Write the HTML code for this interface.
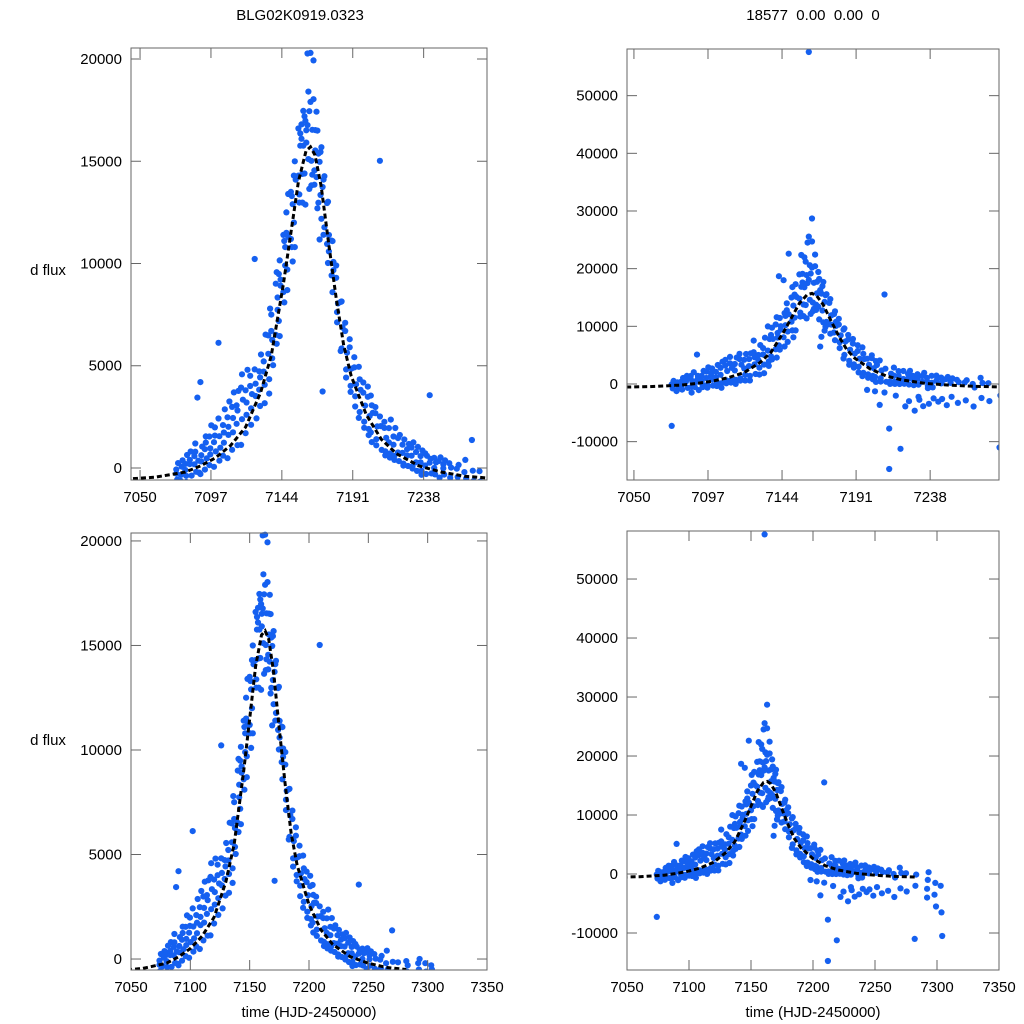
<!DOCTYPE html>
<html><head><meta charset="utf-8"><style>
body{margin:0;background:#fff;}
svg{display:block;font-family:"Liberation Sans",sans-serif;}
</style></head><body>
<svg id="chart" width="1024" height="1024" viewBox="0 0 1024 1024"></svg>
<script>
// ---- model curve data ----
const modelT = [7040,7060,7080,7090,7100,7110,7120,7130,7137,7145,7150,7155,7160,7163,7166,7170,7175,7180,7185,7190,7200,7210,7220,7235,7250,7265,7282];
const modelF = [-550,-450,-200,100,500,1100,2000,3700,5500,9000,11500,14000,15500,15700,15300,13800,11000,8300,6000,4500,2600,1400,700,100,-200,-400,-500];
// ---- observation nights ----
const nightT = [7074,7077,7080,7083,7086,7088,7090,7093,7096,7099,7102,7105,7108,7111,7114,7117,7120,7123,7126,7129,7132,7135,7137,7140,7142,7145,7147,7150,7152,7155,7157,7159,7161,7163,7165,7167,7169,7171,7174,7177,7180,7183,7186,7189,7192,7195,7198,7201,7203,7206,7209,7212,7215,7218,7221,7224,7227,7230,7233,7236,7239,7242,7245,7248,7251,7255,7260,7265,7270,7275,7282,7292,7298,7303];
// residuals from model, left dataset
const devLeft = [[200,-300,500,0],[-100,300,600,-400],[400,-200,800,100,-500],[300,900,-300,500],[600,1200,-200,200,800],[3400,300,-300],[4100,500,900,-400,200],[700,1300,200,-300,1000],[1200,300,1700,-200,600],[800,1500,300,-400,1100],[5500,900,300,1800,-300],[1300,400,2000,-200,900],[1500,600,2200,-500,1000],[1800,500,2400,-300,1200],[1600,-400,2200,700,1300],[2200,600,1500,-600,2800],[1800,500,2600,-300,1100],[1500,-500,900,2000,300],[7200,1000,-800,1800,400],[1200,-600,1800,300,800],[1000,-1200,2000,500,-300],[1500,-800,2500,600,-1500],[2000,500,-1000,1200,-400],[2200,-1000,1000,-300,2500,400],[1800,-1500,700,-500,2200,1000],[2400,-1200,1200,-400,1800,300],[2500,-1600,700,1500,-600,2800],[2000,-1000,800,-300,1500,-2000],[1800,-2000,1000,-500,2200],[2600,-1200,1400,300,-800,2000],[2200,-1800,800,1500,-400,2500],[2000,-2500,1000,-800,1600,400],[4700,2800,-2000,1200,-500,1800],[4600,-1800,1000,2200,-600,-1200],[4500,-1500,1300,2600,-800,300],[2500,-2000,900,-700,1800,-1500],[-3000,1500,-1500,800,-600,2000],[-9500,1200,-800,500,-1500,1700],[1400,-1200,500,-600,1800,-300],[1200,-1000,400,-500,1500,800],[1000,-900,300,1600,-400],[1200,-800,500,-1200,1500],[1000,-700,300,1400,-1100],[1500,-600,400,1100,-900],[1300,-1000,200,800,-500],[1400,-700,500,-1100,900],[1200,-900,300,700,-600],[1500,-800,200,1000,-500],[1300,-900,600,-500,900],[1100,-700,300,800,-400],[13500,600,-500,1000],[1000,-600,300,700,-400],[900,-500,1400,200,-300],[700,-400,1200,300,-200],[800,-300,1000,100],[600,-400,900,200,-300],[500,-300,800,200],[700,-200,1000,300,-300],[600,-300,900,100],[500,-400,800,200,-200],[700,-300,600,100],[3600,500,-200,300],[600,-200,400,100],[500,-300,700],[400,-100,600,200],[500,-200,300],[300,-100,500],[200,800,-100],[1800,300,-200],[300,-200],[400,-100,200],[300,0,500],[300,-100],[200,0]];
// residuals from model, right dataset
const devRight = [[-7000,-500,800,200],[-1000,500,-600,300],[600,-800,1200,-300,200],[500,1500,-600,900],[900,-1500,300,1400,-500],[2000,-600,400],[5000,800,-1200,300,1300],[1200,-800,2000,300,-400],[1800,-500,2500,700,-1000],[1000,2200,-800,1500,300],[1500,-1000,2600,500,-300],[2000,-700,3000,800,-1500],[2200,-900,1200,3200,-400],[2400,-1000,1500,3500,-600],[2000,-1500,3000,900,-800],[2600,-800,1500,3500,-1200],[2200,-1500,3000,700,-500],[1800,-1200,2600,600,-2000],[4500,1500,-1500,2500,300],[1500,-2000,3000,600,-800],[2000,-2500,3500,900,-1000],[5000,-2000,2500,800,-1200],[3000,-1500,1800,-700,4000],[3500,-2500,1500,-800,4500,700],[11000,-2000,1200,-1000,3500,1800],[9000,-2800,2200,-900,3000,600],[4000,-3000,1500,2800,-1200,12000],[3500,-2500,1500,-700,5000,-4000],[3000,-3500,2000,-1000,4500],[5000,-2500,2500,800,-1800,8000],[4500,-3000,1800,3000,-1000,7000],[6000,-4000,2000,-1500,3500,9000],[42000,5000,-3500,2500,-1000,3500,10000],[9000,-3000,2000,4500,-1500,-2500,13000],[7000,-2500,2500,5000,-1600,500],[4500,-3500,1800,-1500,3500,-8000],[-6000,3000,-3000,1500,-1200,4000],[-4000,2500,-1800,1000,-3000,3000],[2500,-2500,1000,-1200,3500,-600],[2200,-2000,800,-1000,3000,1500],[2000,-1800,700,3000,-800],[2500,-1600,1000,-2500,3000],[2000,-1500,600,2800,-2200],[3000,-1200,800,2200,-1800],[2600,-2000,500,1600,-1000],[2800,-1500,1000,-2200,1800],[-4000,-1800,600,1400,-1200],[2500,-1600,400,2000,-1000],[-3500,-1800,1200,-1000,1800],[2200,-1400,600,-5500,-800],[14000,1200,-1000,-3000],[-16000,-1200,600,-9000,-800],[1800,-1000,-3000,400,-600],[1400,-800,-12000,600,-400],[1600,-600,-4500,200],[1200,-3500,1800,400,-600],[1000,-600,-5000,400],[1400,-400,-3000,600,-2500],[1200,-4000,1800,200],[1000,-800,-3500,400,-400],[1400,-600,-2500,200],[1500,1000,-3000,600],[1200,-2500,800,200],[1000,-3500,1400],[800,-2000,1200,400],[1000,-3000,600],[600,-2500,1000],[400,-3500,-200],[1500,-2000,600],[600,-2500],[-10500,-1500,400],[-2000,-500,800,-3500],[-3000,-1000,-5000],[-1500,-6000,-10000]];
// ---- axis ticks ----
const topXTicks = [7050,7097,7144,7191,7238];
const botXTicks = [7050,7100,7150,7200,7250,7300,7350];
const leftYTicks = [0,5000,10000,15000,20000];
const rightYTicks = [-10000,0,10000,20000,30000,40000,50000];

const NS="http://www.w3.org/2000/svg";
const svg=document.getElementById('chart');
function mk(tag,attrs,parent){const e=document.createElementNS(NS,tag);for(const k in attrs)e.setAttribute(k,attrs[k]);(parent||svg).appendChild(e);return e;}
function model(t){
  if(t<=modelT[0])return modelF[0];
  for(let i=1;i<modelT.length;i++){if(t<=modelT[i]){const a=(t-modelT[i-1])/(modelT[i]-modelT[i-1]);return modelF[i-1]+a*(modelF[i]-modelF[i-1]);}}
  return modelF[modelF.length-1];
}
const panels=[
 {id:'top-left',x0:131,x1:487,y0:48,y1:480,xmin:7044,xmax:7280,ymin:-587,ymax:20538,xt:topXTicks,yt:leftYTicks,dev:devLeft},
 {id:'top-right',x0:627,x1:999,y0:49,y1:480,xmin:7045.6,xmax:7281.7,ymin:-16650,ymax:58090,xt:topXTicks,yt:rightYTicks,dev:devRight},
 {id:'bottom-left',x0:131,x1:487,y0:533,y1:970,xmin:7050,xmax:7350,ymin:-525,ymax:20380,xt:botXTicks,yt:leftYTicks,dev:devLeft},
 {id:'bottom-right',x0:627,x1:999,y0:531,y1:970,xmin:7050,xmax:7350,ymin:-16270,ymax:58140,xt:botXTicks,yt:rightYTicks,dev:devRight}
];
panels.forEach(p=>{
  const sx=t=>p.x0+(t-p.xmin)/(p.xmax-p.xmin)*(p.x1-p.x0);
  const sy=v=>p.y1-(v-p.ymin)/(p.ymax-p.ymin)*(p.y1-p.y0);
  const g=mk('g',{});
  
  
  const cp=mk('clipPath',{id:'clip-'+p.id},g);
  mk('rect',{x:p.x0,y:p.y0-3,width:p.x1-p.x0,height:p.y1-p.y0+3},cp);
  const data=mk('g',{'clip-path':'url(#clip-'+p.id+')'},g);
  
  
  nightT.forEach((t,i)=>{
    p.dev[i].forEach((d,j)=>{
      const tt=t+(j%3)*0.6;
      const c=mk('circle',{cx:sx(tt).toFixed(1),cy:sy(model(tt)+d).toFixed(1),r:3.1,fill:'#1560f0'},data);
      
      
    });
  });
  let pts=[];
  for(let i=0;i<modelT.length;i++)pts.push(sx(modelT[i]).toFixed(1)+','+sy(modelF[i]).toFixed(1));
  const ml=mk('polyline',{points:pts.join(' '),fill:'none',stroke:'#000','stroke-width':3,'stroke-dasharray':'5,3','clip-path':'url(#clip-'+p.id+')'},g);
  
  
  const box=mk('rect',{x:p.x0,y:p.y0,width:p.x1-p.x0,height:p.y1-p.y0,fill:'none',stroke:'#666','stroke-width':1},g);
  
  
  p.xt.forEach(v=>{
    const x=sx(v);
    mk('line',{x1:x,x2:x,y1:p.y1,y2:p.y1-10,stroke:'#666'},g);
    mk('line',{x1:x,x2:x,y1:p.y0,y2:p.y0+10,stroke:'#666'},g);
    const tx=mk('text',{x:x,y:p.y1+22,'text-anchor':'middle','font-size':15,fill:'#000'},g);
    tx.textContent=v;
    
    
  });
  p.yt.forEach(v=>{
    const y=sy(v);
    mk('line',{x1:p.x0,x2:p.x0+10,y1:y,y2:y,stroke:'#666'},g);
    mk('line',{x1:p.x1,x2:p.x1-10,y1:y,y2:y,stroke:'#666'},g);
    const ty=mk('text',{x:p.x0-9,y:y+5,'text-anchor':'end','font-size':15,fill:'#000'},g);
    ty.textContent=v;
    
    
  });
});
</script>
<svg style="position:absolute;left:0;top:0" width="1024" height="1024" font-family="Liberation Sans, sans-serif">
<text x="300" y="20" text-anchor="middle" font-size="15">BLG02K0919.0323</text>
<text x="813" y="20" text-anchor="middle" font-size="15" xml:space="preserve">18577  0.00  0.00  0</text>
<text x="48" y="275" text-anchor="middle" font-size="15">d flux</text>
<text x="48" y="745" text-anchor="middle" font-size="15">d flux</text>
<text x="309" y="1017" text-anchor="middle" font-size="15">time (HJD-2450000)</text>
<text x="813" y="1017" text-anchor="middle" font-size="15">time (HJD-2450000)</text>
</svg>
</body></html>
